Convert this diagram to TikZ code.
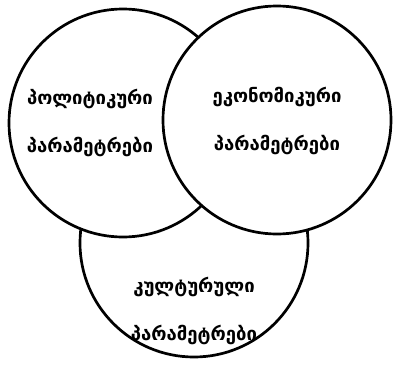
\documentclass[tikz,border=0pt]{standalone}
\usepackage{fontspec}
\setmainfont{DejaVu Sans}
\usetikzlibrary{positioning,calc}

\begin{document}
\begin{tikzpicture}[x=1pt, y=-1pt,
  param/.style={circle, draw=black, fill=white, line width=2.7pt, minimum size=228pt, inner sep=0pt},
  caption/.style={align=center, font=\bfseries\fontsize{18.5}{48}\selectfont}
]
  \useasboundingbox (0,0) rectangle (393,364);

  % Circles
  \node[param] (cult) at (194,243) {};
  \node[param] (polit) at (123,123) {};
  \node[param] (econ) at (277,120) {};

  % Labels
  \node[caption] (poltxt) at ([xshift=-33pt]polit.center) {პოლიტიკური\\პარამეტრები};
  \node[caption] (econtxt) at ([yshift=-1pt]econ.center) {ეკონომიკური\\პარამეტრები};
  \node[caption] (culttxt) at ([yshift=-68pt]cult.center) {კულტურული\\პარამეტრები};

\end{tikzpicture}
\end{document}
